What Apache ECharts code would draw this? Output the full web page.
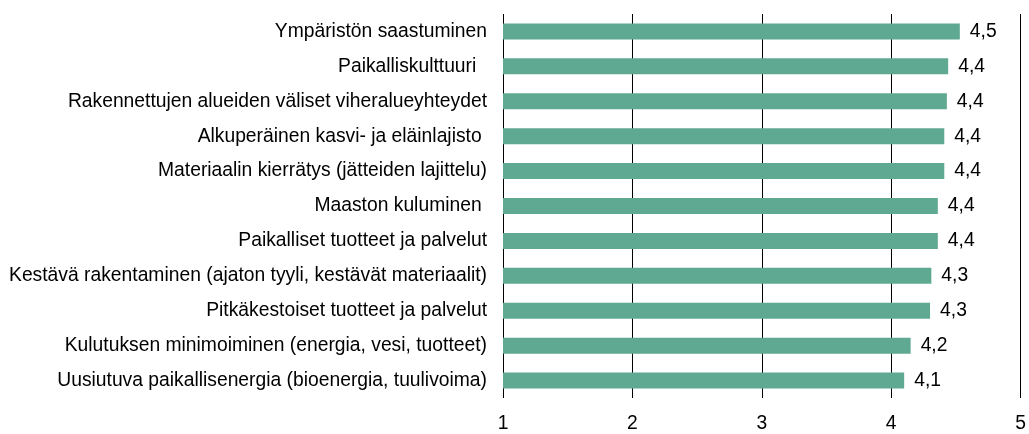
<!DOCTYPE html>
<html>
<head>
<meta charset="utf-8">
<script src="https://cdn.jsdelivr.net/npm/echarts@6/dist/echarts.min.js"></script>
<style>
html,body{margin:0;padding:0;background:#fff;}
#chart{width:1029px;height:434px;}
</style>
</head>
<body>
<div id="chart"></div>
<script>
const categories = [
  "Ympäristön saastuminen",
  "Paikalliskulttuuri  ",
  "Rakennettujen alueiden väliset viheralueyhteydet",
  "Alkuperäinen kasvi- ja eläinlajisto ",
  "Materiaalin kierrätys (jätteiden lajittelu)",
  "Maaston kuluminen ",
  "Paikalliset tuotteet ja palvelut",
  "Kestävä rakentaminen (ajaton tyyli, kestävät materiaalit)",
  "Pitkäkestoiset tuotteet ja palvelut",
  "Kulutuksen minimoiminen (energia, vesi, tuotteet)",
  "Uusiutuva paikallisenergia (bioenergia, tuulivoima)"
];
const values = [4.53, 4.44, 4.43, 4.41, 4.41, 4.36, 4.36, 4.31, 4.30, 4.15, 4.10];
const xTicks = [1, 2, 3, 4, 5];

const FONT = "'Liberation Sans', Arial, sans-serif";
const chart = echarts.init(document.getElementById('chart'), null, {renderer: 'canvas'});
chart.setOption({
  animation: false,
  backgroundColor: '#ffffff',
  grid: {left: 503, right: 7, top: 14, bottom: 36, containLabel: false},
  xAxis: {
    type: 'value',
    min: xTicks[0],
    max: xTicks[xTicks.length - 1],
    interval: 1,
    axisLine: {show: false},
    axisTick: {show: false},
    splitLine: {show: true, lineStyle: {color: '#000', width: 1}},
    axisLabel: {
      color: '#000', fontSize: 19.3, fontFamily: FONT, margin: 16,
      formatter: v => String(v)
    }
  },
  yAxis: {
    type: 'category',
    inverse: true,
    data: categories,
    axisLine: {show: false},
    axisTick: {show: false},
    splitLine: {show: false},
    axisLabel: {color: '#000', fontSize: 19.3, fontFamily: FONT, margin: 16}
  },
  series: [{
    type: 'bar',
    data: values,
    barWidth: 16,
    itemStyle: {color: '#5fa891'},
    label: {
      show: true,
      position: 'right',
      distance: 10,
      color: '#000',
      fontSize: 19.3,
      fontFamily: FONT,
      formatter: p => p.value.toFixed(1).replace('.', ',')
    }
  }]
});
</script>
</body>
</html>
